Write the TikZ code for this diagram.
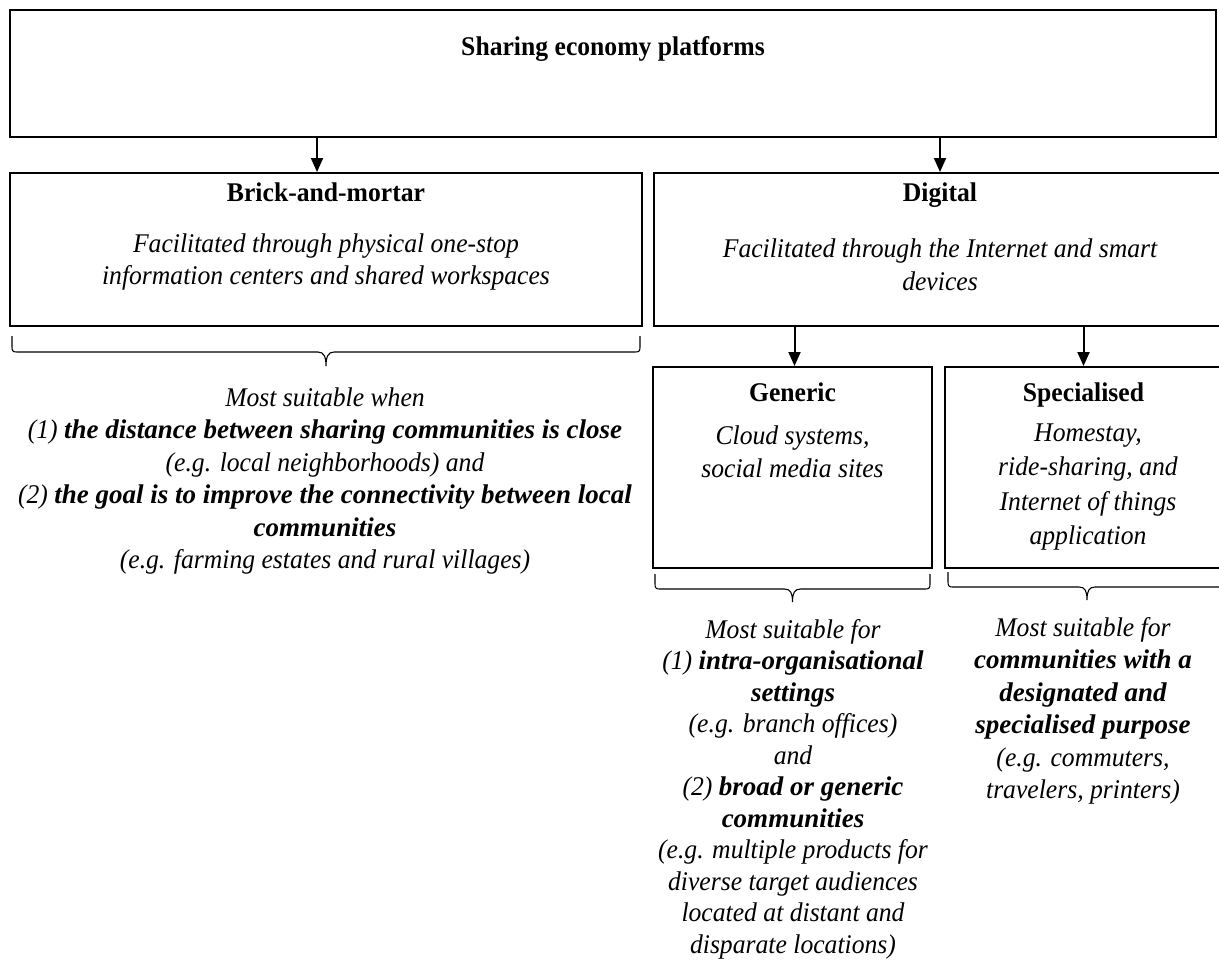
\documentclass[tikz,border=0pt]{standalone}
\usepackage{fontspec}
\setmainfont{Liberation Serif}[ItalicFeatures={FakeStretch=0.95},BoldFeatures={FakeStretch=0.95}]
\usepackage{tikz}
\usetikzlibrary{arrows.meta,calc}

\begin{document}
\begin{tikzpicture}[x=0.5pt,y=-0.5pt,
		font=\fontsize{13.5}{16.25}\selectfont,
		box/.style={draw,line width=1pt,inner sep=0pt},
		head/.style={anchor=base,font=\fontsize{13.5}{16.25}\selectfont\bfseries},
		body/.style={align=center,font=\fontsize{13.5}{16.25}\selectfont\itshape},
		arr/.style={-{Triangle[length=7pt,width=6pt]},line width=1pt},
		brc/.style={line width=0.55pt}]
		\clip (0,0) rectangle (1219,960);
		\node[box,minimum width=603pt,minimum height=63.5pt] (top) at (613,73.5) {};
		\node[box,minimum width=316pt,minimum height=76.5pt] (brick) at (326,249.5) {};
		\node[box,minimum width=286pt,minimum height=76.5pt] (digital) at (940,249.5) {};
		\node[box,minimum width=139.5pt,minimum height=100.5pt] (generic) at (792.5,467.5) {};
		\node[box,minimum width=138.5pt,minimum height=100.5pt] (special) at (1083.5,467.5) {};
		% titles and descriptions
		\node[head] (toptitle) at (613,55) {Sharing economy platforms};
		\node[head] (bricktitle) at (326,201) {Brick-and-mortar};
		\node[body] (bricktext) at (326,262) {Facilitated through physical one-stop\\information centers and shared workspaces};
		\node[head] (digitaltitle) at (940,201) {Digital};
		\node[body] (digitaltext) at (940,265) {Facilitated through the Internet and smart\\devices};
		\node[head] (generictitle) at (792.5,401) {Generic};
		\node[body] (generictext) at (792.5,452) {Cloud systems,\\social media sites};
		\node[head] (specialtitle) at (1083.5,401) {Specialised};
		\node[body,align=center] (specialtext) at (1088,487) {Homestay,\\[0.8pt]ride-sharing, and\\[0.8pt]Internet of things\\[0.8pt]application};
		% arrows
		\coordinate (a1) at (317,0);
		\draw[arr] (a1 |- top.south) -- (a1 |- brick.north);
		\draw[arr] (digital |- top.south) -- (digital.north);
		\draw[arr] ([xshift=1pt]generic |- digital.south) -- ([xshift=1pt]generic.north);
		\draw[arr] (special |- digital.south) -- (special.north);
		% braces
		\coordinate (b1) at (12,336);
		\coordinate (b2) at (640,336);
		\coordinate (g1) at (655,574);
		\coordinate (g2) at (930,574);
		\coordinate (s1) at (948,572);
		\coordinate (s2) at (1226,572);
		\foreach \l/\r/\d/\t in {b1/b2/16/30,g1/g2/15/28,s1/s2/15/28}{
			\coordinate (m) at ($(\l)!.5!(\r)$);
			\draw[brc] (\l) -- ++(0,\d-5) .. controls +(0,4) and +(-4,0) .. ([shift={(5,\d)}]\l)
				-- ([shift={(-8,\d)}]m) .. controls +(6,0) and +(0,-9) .. ([shift={(0,\t)}]m)
				.. controls +(0,-9) and +(-6,0) .. ([shift={(8,\d)}]m)
				-- ([shift={(-5,\d)}]\r) .. controls +(4,0) and +(0,4) .. ([shift={(0,\d-5)}]\r) -- (\r);
		}
		% notes
		\node[body] (bricknote) at (325,481) {Most suitable when\\(1) \textbf{the distance between sharing communities is close}\\(e.g. local neighborhoods) and\\(2) \textbf{the goal is to improve the connectivity between local}\\\textbf{communities}\\(e.g. farming estates and rural villages)};
		\node[body] (genericnote) at (793,789) {Most suitable for\\[-0.5pt](1) \textbf{intra-organisational}\\[-0.5pt]\textbf{settings}\\[-0.5pt](e.g. branch offices)\\[-0.5pt]and\\[-0.5pt](2) \textbf{broad or generic}\\[-0.5pt]\textbf{communities}\\[-0.5pt](e.g. multiple products for\\[-0.5pt]diverse target audiences\\[-0.5pt]located at distant and\\[-0.5pt]disparate locations)};
		\node[body] (specialnote) at (1083,711) {Most suitable for\\\textbf{communities with a}\\\textbf{designated and}\\\textbf{specialised purpose}\\(e.g. commuters,\\travelers, printers)};
\end{tikzpicture}
\end{document}
